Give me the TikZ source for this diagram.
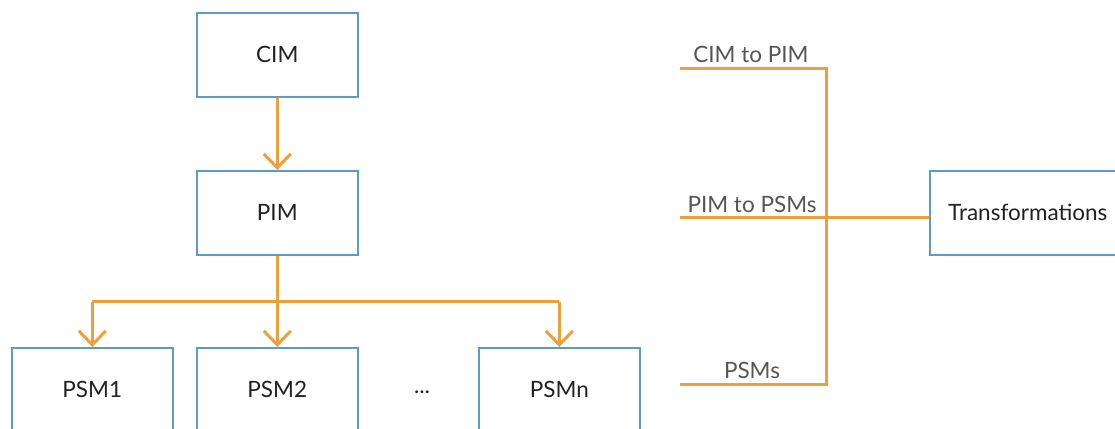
\documentclass[tikz,border=0pt]{standalone}
\usepackage{fontspec}
\setmainfont{Lato}
\usetikzlibrary{arrows.meta}
\definecolor{boxblue}{HTML}{5A9CC6}
\definecolor{lineorange}{HTML}{EDA03A}
\definecolor{txtdark}{HTML}{222222}
\definecolor{txtgrey}{HTML}{555555}
\tikzset{
  mbox/.style={draw=boxblue, line width=1.6pt, fill=white, inner sep=0pt, anchor=north west,
    minimum width=161pt, minimum height=84pt, text=txtdark, font=\fontsize{22.5}{27}\selectfont},
  conn/.style={draw=lineorange, line width=3pt},
  arr/.style={conn, -{Straight Barb[length=14pt,width=27pt,line width=3pt]}},
  lbl/.style={text=txtgrey, font=\fontsize{22.5}{27}\selectfont, inner sep=0pt, anchor=base}
}
\begin{document}
\begin{tikzpicture}[x=1pt,y=-1pt]
\useasboundingbox (0,0) rectangle (1115,428);
\clip (0,0) rectangle (1115,428);
\node[mbox] (CIM) at (196,12) {CIM};
\node[mbox] (PIM) at (196,170) {PIM};
\node[mbox] (PSM1) at (11,347) {PSM1};
\node[mbox] (PSM2) at (196,347) {PSM2};
\node[mbox] (PSMn) at (478,347) {PSMn};
\node[text=txtdark, font=\fontsize{22.5}{27}\selectfont, inner sep=0pt] (dots) at (422,392) {...};
\node[mbox, minimum width=196pt] (Trans) at (929,170) {Transformations};

\draw[arr] (CIM.south) -- (PIM.north);
\coordinate (bus) at ([yshift=-46pt]PIM.south);
\draw[conn] (PIM.south) -- (bus);
\draw[conn] (bus -| PSM1.north) -- (bus -| PSMn.north);
\draw[arr] (bus -| PSM1.north) -- (PSM1.north);
\draw[arr] (bus) -- (PSM2.north);
\draw[arr] (bus -| PSMn.north) -- (PSMn.north);

\coordinate (t1) at (680,68);
\coordinate (t2) at (680,217);
\coordinate (t3) at (680,384);
\coordinate (j1) at (826,68);
\coordinate (j3) at (826,384);
\draw[conn, line join=miter] (t1) -- (j1) -- (j3) -- (t3);
\draw[conn] (t2) -- (t2 -| Trans.west);
\node[lbl] (l1) at (751,63) {CIM to PIM};
\node[lbl] (l2) at (752,212) {PIM to PSMs};
\node[lbl] (l3) at (752,378) {PSMs};
\end{tikzpicture}
\end{document}
